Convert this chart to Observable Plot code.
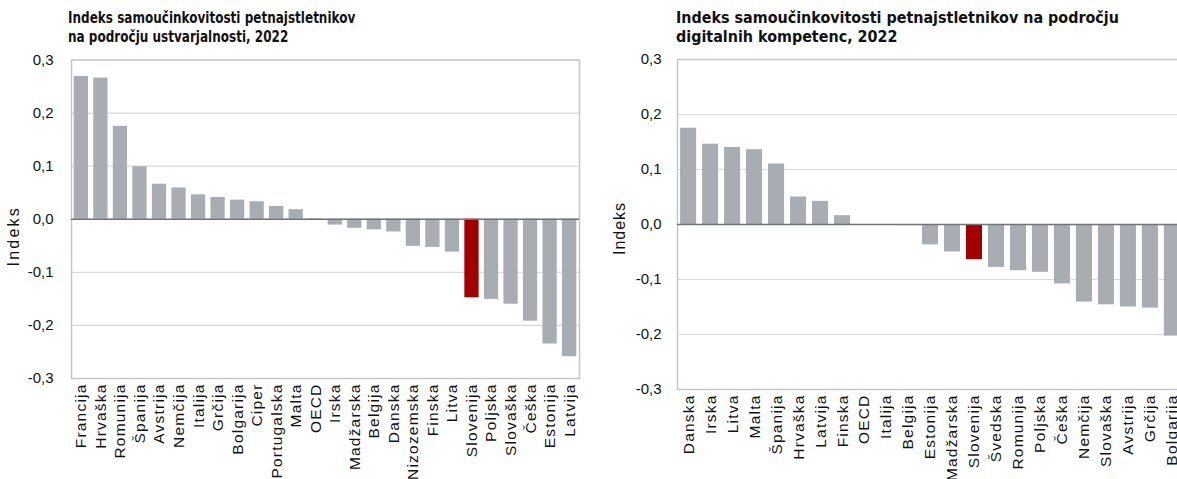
<!DOCTYPE html>
<html>
<head>
<meta charset="utf-8">
<script src="https://cdn.jsdelivr.net/npm/d3@7"></script>
<script src="https://cdn.jsdelivr.net/npm/@observablehq/plot@0.6"></script>
<style>
  html, body { margin: 0; padding: 0; background: #fff; overflow: hidden; }
  #wrap { position: relative; width: 1177px; height: 479px; overflow: hidden; background: #fff; }
  .title { position: absolute; top: 9px; font-family: "Liberation Sans Narrow", "DejaVu Sans Condensed", "Liberation Sans", sans-serif; font-weight: bold; font-size: 16.5px; line-height: 18.5px; color: #111; white-space: nowrap; transform-origin: 0 0; }
  .chart { position: absolute; top: 48px; }
  .chart svg { max-width: none !important; display: block; }
</style>
</head>
<body>
<div id="wrap">
  <div class="title" id="t1" style="left:68px; transform: scaleX(0.81)">Indeks samoučinkovitosti petnajstletnikov<br>na področju ustvarjalnosti, 2022</div>
  <div class="title" id="t2" style="left:676px; transform: scaleX(0.965)">Indeks samoučinkovitosti petnajstletnikov na področju<br>digitalnih kompetenc, 2022</div>
  <div class="chart" id="c1" style="left:0px; width:590px"></div>
  <div class="chart" id="c2" style="left:600px; width:600px"></div>
</div>
<script>
// ---- Data ----
const leftCountries = ["Francija","Hrvaška","Romunija","Španija","Avstrija","Nemčija","Italija","Grčija","Bolgarija","Ciper","Portugalska","Malta","OECD","Irska","Madžarska","Belgija","Danska","Nizozemska","Finska","Litva","Slovenija","Poljska","Slovaška","Češka","Estonija","Latvija"];
const leftValues = [0.269,0.266,0.175,0.099,0.066,0.059,0.046,0.041,0.036,0.033,0.024,0.018,0.001,-0.011,-0.017,-0.020,-0.024,-0.051,-0.053,-0.062,-0.148,-0.151,-0.160,-0.192,-0.235,-0.259];

const rightCountries = ["Danska","Irska","Litva","Malta","Španija","Hrvaška","Latvija","Finska","OECD","Italija","Belgija","Estonija","Madžarska","Slovenija","Švedska","Romunija","Poljska","Češka","Nemčija","Slovaška","Avstrija","Grčija","Bolgarija"];
const rightValues = [0.175,0.146,0.140,0.136,0.110,0.050,0.042,0.016,0.000,-0.001,-0.002,-0.037,-0.050,-0.064,-0.078,-0.084,-0.087,-0.108,-0.141,-0.146,-0.150,-0.152,-0.203];

const yTicks = [-0.3,-0.2,-0.1,0,0.1,0.2,0.3];
const highlight = "Slovenija";
const axisLabel = "Indeks";

// ---- Styles ----
const GRAY = "#a7adb3";
const RED = "#a00000";
const GRID = "#d9d9d9";
const FRAME = "#c6c6c6";
const ZERO = "#6f7479";
const FONT = "'Liberation Sans', Arial, sans-serif";
const fmt = v => v.toFixed(1).replace(".", ",");

function makeChart(countries, values, o) {
  const data = countries.map((c, i) => ({country: c, value: values[i]}));
  const svg = Plot.plot({
    width: o.width, height: o.height,
    marginLeft: o.ml, marginRight: o.mr, marginTop: o.mt, marginBottom: o.mb,
    style: {background: "transparent", overflow: "visible"},
    x: {domain: countries, paddingInner: 0.27, paddingOuter: 0.14, round: false, label: null},
    y: {domain: [-0.3, 0.3], label: null},
    marks: [
      Plot.gridY(yTicks, {stroke: GRID, strokeOpacity: 1, strokeWidth: 1.2}),
      Plot.frame({stroke: FRAME, strokeWidth: 1.5}),
      Plot.barY(data, {x: "country", y: "value", fill: d => d.country === highlight ? RED : GRAY}),
      Plot.ruleY([0], {stroke: ZERO, strokeWidth: 1.5}),
      Plot.axisY({ticks: yTicks, tickFormat: fmt, tickSize: 0, tickPadding: o.tp, label: null}),
      Plot.axisX({tickSize: 0, tickRotate: -90, tickPadding: 5, label: null}),
      Plot.text([axisLabel], {frameAnchor: "left", textAnchor: "middle", dx: -58, dy: o.labelDy, rotate: -90, text: d => d})
    ]
  });
  const s = d3.select(svg);
  s.selectAll("text").style("font-family", FONT).style("font-size", "15px").style("fill", "#111");
  s.selectAll('g[aria-label="x-axis tick label"] text').style("font-size", "15.5px").style("letter-spacing", "1.2px");
  s.selectAll('g[aria-label="text"] text').style("font-size", "16px").style("letter-spacing", o.labelLs);
  return svg;
}

document.getElementById("c1").appendChild(makeChart(leftCountries, leftValues, {width: 590, height: 431, ml: 71, mr: 11, mt: 11.5, mb: 101, tp: 18, labelDy: 17, labelLs: "2.2px"}));
document.getElementById("c2").appendChild(makeChart(rightCountries, rightValues, {width: 600, height: 431, ml: 77, mr: 17, mt: 11, mb: 90, tp: 16, labelDy: 4, labelLs: "1px"}));
</script>
</body>
</html>
